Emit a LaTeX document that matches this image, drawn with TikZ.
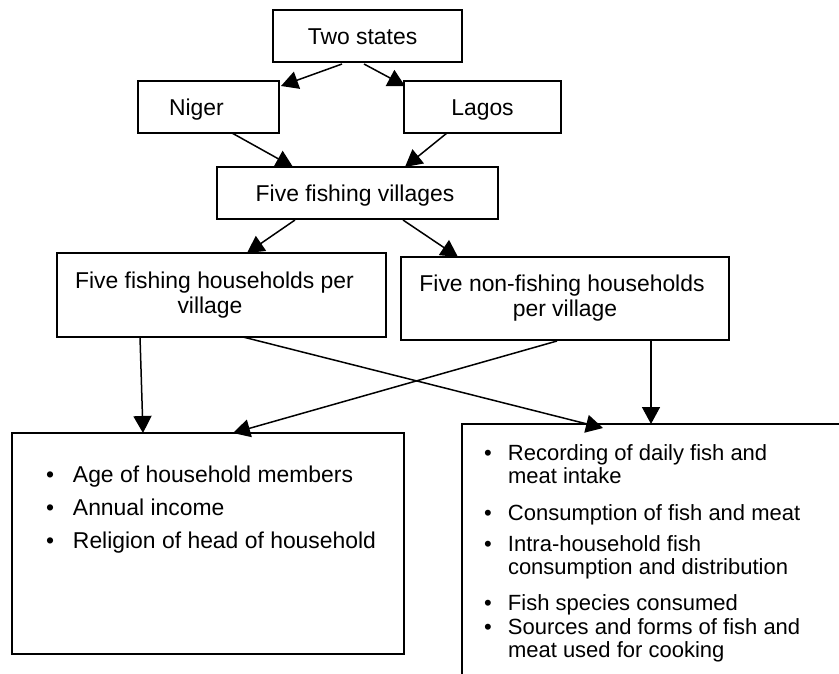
\documentclass[tikz,border=0pt]{standalone}
\usepackage{fontspec}
\setmainfont{Liberation Sans}
\usetikzlibrary{arrows.meta}
\begin{document}
\begin{tikzpicture}[x=1pt,y=-1pt,
  box/.style={draw, line width=1.7pt, inner sep=0pt, outer sep=0pt, font=\fontsize{22.9pt}{25pt}\selectfont},
  onebox/.style={box, text height=16pt, text depth=0pt},
  listtext/.style={anchor=base west, inner sep=0pt, outer sep=0pt, font=\fontsize{22.9pt}{25pt}\selectfont},
  rlisttext/.style={listtext, font=\fontsize{22pt}{25pt}\selectfont},
  arr/.style={line width=1.5pt, -{Triangle[length=17pt,width=18pt]}}]
\useasboundingbox (0,0) rectangle (839,673);
\clip (0,0) rectangle (839,673);
\fill[white] (0,0) rectangle (839,673);

% boxes
\node[onebox, minimum width=189pt, minimum height=52pt] (ts) at (367.5,36) {Two states\hspace*{10pt}};
\node[onebox, minimum width=141pt, minimum height=52pt, text width=79pt, align=left] (niger) at (208.5,107) {Niger};
\node[onebox, minimum width=157pt, minimum height=52pt] (lagos) at (482.5,107) {Lagos};
\node[onebox, minimum width=281pt, minimum height=52pt] (ffv) at (357.5,193) {Five fishing villages\hspace*{5pt}};
\node[box, minimum width=329pt, minimum height=84pt, align=center] (fh) at (221.5,295) {Five fishing households per\hspace*{14pt}\\village\hspace*{23pt}};
\node[box, minimum width=328pt, minimum height=83pt, align=center] (nfh) at (565,298.5) {Five non-fishing households\hspace*{6pt}\\per village};
\node[box, minimum width=392pt, minimum height=221pt] (lb) at (208,543.5) {};
\node[box, anchor=north west, minimum width=420pt, minimum height=300pt] (rb) at (462,424) {};

% left list
\foreach \yy/\tx [count=\i] in {482/Age of household members, 515/Annual income, 548/Religion of head of household}
  \node[listtext] (la\i) at (46,\yy) {\makebox[27pt][l]{\textbullet}\tx};

% right list
\foreach \yy/\tx [count=\i] in {460/Recording of daily fish and, 520/Consumption of fish and meat, 551/Intra-household fish, 610/Fish species consumed, 634/Sources and forms of fish and}
  \node[rlisttext] (rb\i) at (484,\yy) {\makebox[24pt][l]{\textbullet}\tx};
\foreach \yy/\tx [count=\i] in {483/meat intake, 574/consumption and distribution, 657/meat used for cooking}
  \node[rlisttext] (rc\i) at (508,\yy) {\tx};

% connectors
\draw[arr] ([xshift=69pt,yshift=-2pt]ts.south west) -- ([xshift=2pt,yshift=-5pt]niger.north east);
\draw[arr] ([xshift=91pt,yshift=-2pt]ts.south west) -- ([xshift=1pt,yshift=-5pt]lagos.north west);
\draw[arr] ([xshift=94pt]niger.south west) -- ([xshift=76pt]ffv.north west);
\draw[arr] ([xshift=43pt]lagos.south west) -- ([xshift=188pt]ffv.north west);
\draw[arr] ([xshift=78pt,yshift=-1pt]ffv.south west) -- ([xshift=190pt]fh.north west);
\draw[arr] ([xshift=186pt,yshift=-1pt]ffv.south west) -- ([xshift=57pt]nfh.north west);
\draw[arr] ([xshift=83pt]fh.south west) -- ([xshift=131pt]lb.north west);
\draw[arr] ([xshift=186pt]fh.south west) -- ([xshift=141pt,yshift=-4pt]rb.north west);
\draw[arr] ([xshift=156pt,yshift=-1pt]nfh.south west) -- ([xshift=221pt]lb.north west);
\draw[arr] ([xshift=250pt]nfh.south west) -- ([xshift=189pt]rb.north west);
\end{tikzpicture}
\end{document}
